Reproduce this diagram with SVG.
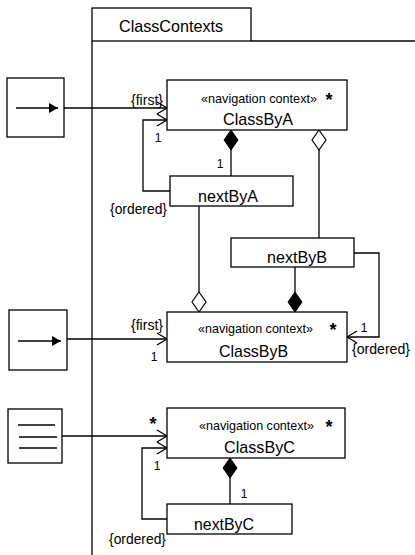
<svg xmlns="http://www.w3.org/2000/svg" width="415" height="555" viewBox="0 0 415 555">
<style>
.box{fill:#fff;stroke:#000;stroke-width:1.3}
.ln{fill:none;stroke:#000;stroke-width:1.3}
text{font-family:"Liberation Sans",Arial,sans-serif;fill:#000}
.t16{font-size:17px}
.st{font-size:13.5px}
.con{font-size:14.5px}
.m{font-size:12px}
.ast{font-size:18px;font-weight:bold}
</style>
<defs>
<marker id="open" markerUnits="userSpaceOnUse" markerWidth="12" markerHeight="14" refX="10" refY="6.5" orient="auto" overflow="visible">
<path d="M0,0.5 L10,6.5 L0,12.5" fill="none" stroke="#000" stroke-width="1.3"/>
</marker>
<marker id="dfill" markerUnits="userSpaceOnUse" markerWidth="22" markerHeight="16" refX="0" refY="7" orient="auto" overflow="visible">
<path d="M0,7 L10,0 L20,7 L10,14 Z" fill="#000" stroke="#000" stroke-width="1"/>
</marker>
<marker id="dhollow" markerUnits="userSpaceOnUse" markerWidth="22" markerHeight="16" refX="0" refY="7" orient="auto" overflow="visible">
<path d="M0,7 L10,0 L20,7 L10,14 Z" fill="#fff" stroke="#000" stroke-width="1.2"/>
</marker>
<marker id="tri" markerUnits="userSpaceOnUse" markerWidth="12" markerHeight="12" refX="9" refY="5" orient="auto" overflow="visible">
<path d="M0,0 L9,5 L0,10 Z" fill="#000"/>
</marker>
</defs>

<g id="frame">
<rect class="box" x="92" y="8" width="159" height="33"/>
<text class="t16" x="171" y="32" text-anchor="middle" textLength="104" lengthAdjust="spacingAndGlyphs">ClassContexts</text>
<path class="ln" d="M251,41 H415 M92,41 V555"/>
</g>

<g id="connectors">
<path class="ln" d="M64,108 H167" marker-end="url(#open)"/>
<path class="ln" d="M170,191 H143 V120 H167" marker-end="url(#open)"/>
<path class="ln" d="M231,130 V176" marker-start="url(#dfill)"/>
<path class="ln" d="M319,130 V238" marker-start="url(#dhollow)"/>
<path class="ln" d="M199,312 V206" marker-start="url(#dhollow)"/>
<path class="ln" d="M295,312 V267" marker-start="url(#dfill)"/>
<path class="ln" d="M354,253 H379 V337 H347" marker-end="url(#open)"/>
<path class="ln" d="M67,339 H167" marker-end="url(#open)"/>
<path class="ln" d="M62,436 H167" marker-end="url(#open)"/>
<path class="ln" d="M167,519 H142 V448 H167" marker-end="url(#open)"/>
<path class="ln" d="M230,458 V504" marker-start="url(#dfill)"/>
<text class="con" x="163" y="105" text-anchor="end" textLength="32" lengthAdjust="spacingAndGlyphs">{first}</text>
<text class="m" x="158" y="142" text-anchor="middle">1</text>
<text class="m" x="220" y="168" text-anchor="middle">1</text>
<text class="con" x="167" y="214" text-anchor="end" textLength="57" lengthAdjust="spacingAndGlyphs">{ordered}</text>
<text class="con" x="163" y="330" text-anchor="end" textLength="32" lengthAdjust="spacingAndGlyphs">{first}</text>
<text class="m" x="154" y="361" text-anchor="middle">1</text>
<text class="m" x="364" y="332" text-anchor="middle">1</text>
<text class="con" x="352" y="354" textLength="58" lengthAdjust="spacingAndGlyphs">{ordered}</text>
<text class="ast" x="153" y="430" text-anchor="middle">*</text>
<text class="m" x="157" y="470" text-anchor="middle">1</text>
<text class="m" x="244" y="498" text-anchor="middle">1</text>
<text class="con" x="166" y="544" text-anchor="end" textLength="57" lengthAdjust="spacingAndGlyphs">{ordered}</text>
</g>

<g id="initA">
<rect class="box" x="7" y="78" width="57" height="59"/>
<path class="ln" d="M16,108 H58" marker-end="url(#tri)"/>
</g>

<g id="initB">
<rect class="box" x="9" y="310" width="58" height="60"/>
<path class="ln" d="M18,341 H61" marker-end="url(#tri)"/>
</g>

<g id="indexC">
<rect class="box" x="8" y="409" width="54" height="54"/>
<path class="ln" d="M18,425 H55 M19,437 H57 M19,448 H57"/>
</g>

<g id="ClassByA">
<rect class="box" x="167" y="80" width="180" height="50"/>
<text class="st" x="259" y="103" text-anchor="middle" textLength="116" lengthAdjust="spacingAndGlyphs">«navigation context»</text>
<text class="ast" x="329" y="106" text-anchor="middle">*</text>
<text class="t16" x="258" y="125" text-anchor="middle" textLength="70" lengthAdjust="spacingAndGlyphs">ClassByA</text>
</g>

<g id="nextByA">
<rect class="box" x="170" y="176" width="123" height="30"/>
<text class="t16" x="228" y="202" text-anchor="middle" textLength="60" lengthAdjust="spacingAndGlyphs">nextByA</text>
</g>

<g id="nextByB">
<rect class="box" x="231" y="238" width="123" height="29"/>
<text class="t16" x="297" y="263" text-anchor="middle" textLength="60" lengthAdjust="spacingAndGlyphs">nextByB</text>
</g>

<g id="ClassByB">
<rect class="box" x="167" y="312" width="180" height="50"/>
<text class="st" x="255.5" y="333" text-anchor="middle" textLength="115" lengthAdjust="spacingAndGlyphs">«navigation context»</text>
<text class="ast" x="333" y="336" text-anchor="middle">*</text>
<text class="t16" x="253.5" y="357" text-anchor="middle" textLength="69" lengthAdjust="spacingAndGlyphs">ClassByB</text>
</g>

<g id="ClassByC">
<rect class="box" x="167" y="408" width="178" height="50"/>
<text class="st" x="256.5" y="430" text-anchor="middle" textLength="115" lengthAdjust="spacingAndGlyphs">«navigation context»</text>
<text class="ast" x="329" y="433" text-anchor="middle">*</text>
<text class="t16" x="259.5" y="453" text-anchor="middle" textLength="71" lengthAdjust="spacingAndGlyphs">ClassByC</text>
</g>

<g id="nextByC">
<rect class="box" x="167" y="504" width="125" height="30"/>
<text class="t16" x="224" y="530" text-anchor="middle" textLength="60" lengthAdjust="spacingAndGlyphs">nextByC</text>
</g>
</svg>
